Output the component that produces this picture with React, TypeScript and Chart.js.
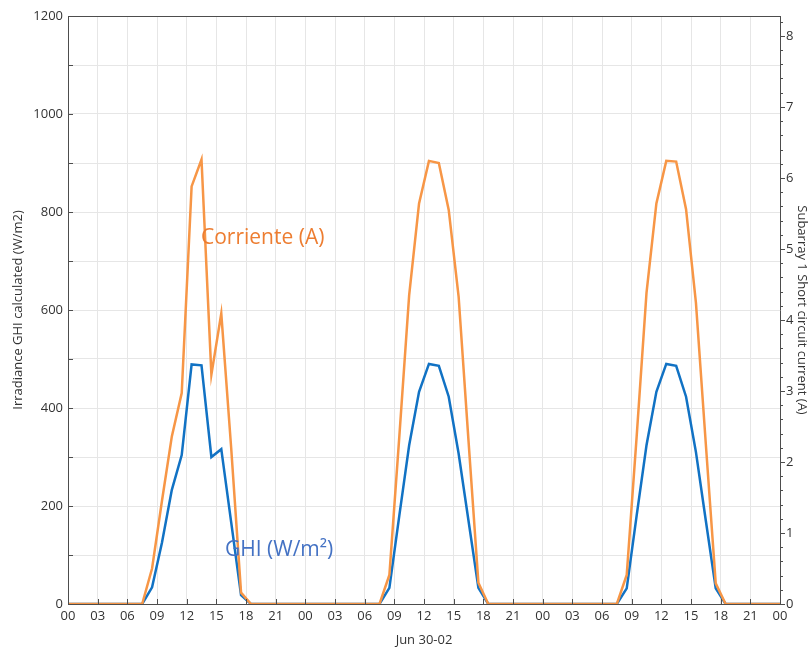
import React, { useEffect, useRef } from "react";
import { Chart, registerables } from "chart.js";

Chart.register(...registerables);

// Hour-of-day (center of hourly interval) of the daylight samples
const sampleHours = [7.5, 8.5, 9.5, 10.5, 11.5, 12.5, 13.5, 14.5, 15.5, 16.5, 17.5, 18.5];

// Irradiance GHI calculated (W/m2), per day
const ghiDay1 = [0, 34, 125, 233, 304, 489, 487, 300, 316, 167, 18, 0];
const ghiDay2 = [0, 33, 180, 324, 433, 490, 486, 423, 307, 170, 33, 0];
const ghiDay3 = [0, 32, 180, 324, 433, 490, 486, 423, 310, 170, 32, 0];

// Subarray 1 Short circuit current (A), per day
const currentDay1 = [0, 0.5, 1.45, 2.36, 2.97, 5.88, 6.26, 3.23, 4.09, 2.2, 0.16, 0];
const currentDay2 = [0, 0.41, 2.35, 4.35, 5.64, 6.24, 6.21, 5.55, 4.33, 2.3, 0.3, 0];
const currentDay3 = [0, 0.41, 2.35, 4.38, 5.64, 6.24, 6.23, 5.56, 4.24, 2.25, 0.29, 0];

const xTickHours = [0, 3, 6, 9, 12, 15, 18, 21, 24, 27, 30, 33, 36, 39, 42, 45, 48, 51, 54, 57, 60, 63, 66, 69, 72];
const xAxisTitle = "Jun 30-02";
const leftTitle = "Irradiance GHI calculated (W/m2)";
const rightTitle = "Subarray 1 Short circuit current (A)";
const labelCurrent = "Corriente (A)";
const labelGhi = "GHI (W/m\u00B2)";

const FONT = "'Open Sans', 'Noto Sans', sans-serif";
const AXIS_COLOR = "#4d4d4d";
const TEXT_COLOR = "#333333";
const GRID_COLOR = "#e6e6e6";

function buildSeries(days: number[][]) {
  const pts: { x: number; y: number }[] = [{ x: 0, y: 0 }];
  days.forEach((vals, d) => {
    sampleHours.forEach((h, i) => pts.push({ x: d * 24 + h, y: vals[i] }));
  });
  pts.push({ x: 72, y: 0 });
  return pts;
}

const decorPlugin = {
  id: "decor",
  afterDraw(chart: any) {
    const { ctx, chartArea } = chart;
    const { left, right, top, bottom } = chartArea;
    const xs = chart.scales.x;
    const yl = chart.scales.y;
    const yr = chart.scales.y1;
    ctx.save();
    ctx.strokeStyle = AXIS_COLOR;
    ctx.lineWidth = 1;
    ctx.beginPath();
    // top frame line
    ctx.moveTo(left, Math.round(top) + 0.5);
    ctx.lineTo(right, Math.round(top) + 0.5);
    // x ticks (inside)
    xTickHours.forEach((h) => {
      const x = Math.round(xs.getPixelForValue(h)) + 0.5;
      ctx.moveTo(x, bottom);
      ctx.lineTo(x, bottom - 5);
    });
    // left ticks (inside)
    for (let v = 0; v <= 1200; v += 100) {
      const y = Math.round(yl.getPixelForValue(v)) + 0.5;
      ctx.moveTo(left, y);
      ctx.lineTo(left + 5, y);
    }
    // right ticks (outside), major + minor
    for (let k = 0; k <= 41; k++) {
      const v = k * 0.2;
      const y = Math.round(yr.getPixelForValue(v)) + 0.5;
      const len = k % 5 === 0 ? 5 : 3;
      ctx.moveTo(right, y);
      ctx.lineTo(right + len, y);
    }
    ctx.stroke();

    ctx.font = `21px ${FONT}`;
    ctx.textBaseline = "middle";
    ctx.textAlign = "left";
    ctx.fillStyle = "#ED7D31";
    ctx.fillText(labelCurrent, 201, 238);
    ctx.fillStyle = "#4472C4";
    ctx.fillText(labelGhi, 225, 550);
    ctx.restore();
  },
};

export default function App() {
  const ref = useRef<HTMLCanvasElement | null>(null);

  useEffect(() => {
    if (!ref.current) return;
    const chart = new Chart(ref.current, {
      type: "line",
      data: {
        datasets: [
          {
            label: labelCurrent,
            data: buildSeries([currentDay1, currentDay2, currentDay3]),
            yAxisID: "y1",
            borderColor: "#F79646",
            borderWidth: 2.5,
            pointRadius: 0,
            tension: 0,
            fill: false,
          },
          {
            label: labelGhi,
            data: buildSeries([ghiDay1, ghiDay2, ghiDay3]),
            yAxisID: "y",
            borderColor: "#1172C4",
            borderWidth: 2.5,
            pointRadius: 0,
            tension: 0,
            fill: false,
          },
        ],
      },
      options: {
        responsive: false,
        animation: false,
        maintainAspectRatio: false,
        layout: { padding: { top: 16, left: 0, right: 0, bottom: 0 } },
        plugins: {
          legend: { display: false },
          tooltip: { enabled: false },
        },
        scales: {
          x: {
            type: "linear",
            min: 0,
            max: 72,
            afterBuildTicks: (s: any) => {
              s.ticks = xTickHours.map((v) => ({ value: v }));
            },
            afterFit: (s: any) => {
              s.height = 45;
            },
            ticks: {
              autoSkip: false,
              maxRotation: 0,
              padding: 4,
              color: TEXT_COLOR,
              font: { family: FONT, size: 13 },
              callback: (v: any) => String(Number(v) % 24).padStart(2, "0"),
            },
            grid: { color: GRID_COLOR, drawTicks: false },
            border: { color: AXIS_COLOR, z: 1 },
            title: {
              display: true,
              text: xAxisTitle,
              color: TEXT_COLOR,
              font: { family: FONT, size: 13 },
              padding: { top: 0, bottom: 1 },
            },
          },
          y: {
            position: "left",
            min: 0,
            max: 1200,
            afterFit: (s: any) => {
              s.width = 68;
            },
            ticks: {
              stepSize: 100,
              padding: 5,
              color: TEXT_COLOR,
              font: { family: FONT, size: 13 },
              callback: (v: any) => (Number(v) % 200 === 0 ? String(v) : ""),
            },
            grid: { color: GRID_COLOR, drawTicks: false },
            border: { color: AXIS_COLOR },
            title: {
              display: true,
              text: leftTitle,
              color: TEXT_COLOR,
              font: { family: FONT, size: 13 },
              padding: { top: 10, bottom: 0 },
            },
          },
          y1: {
            position: "right",
            min: 0,
            max: 8.28,
            afterBuildTicks: (s: any) => {
              s.ticks = s.ticks.filter((t: any) => Number.isInteger(t.value));
            },
            afterFit: (s: any) => {
              s.width = 30;
            },
            ticks: {
              stepSize: 1,
              padding: 6,
              color: TEXT_COLOR,
              font: { family: FONT, size: 13 },
            },
            grid: { display: false, drawTicks: false },
            border: { color: AXIS_COLOR },
            title: {
              display: true,
              text: rightTitle,
              color: TEXT_COLOR,
              font: { family: FONT, size: 13 },
              padding: { top: 0, bottom: 1 },
            },
          },
        },
      },
      plugins: [decorPlugin],
    });
    return () => chart.destroy();
  }, []);

  return (
    <div style={{ position: "absolute", left: 0, top: 0, width: 810, height: 649, background: "#ffffff" }}>
      <canvas ref={ref} width={810} height={649} />
    </div>
  );
}
